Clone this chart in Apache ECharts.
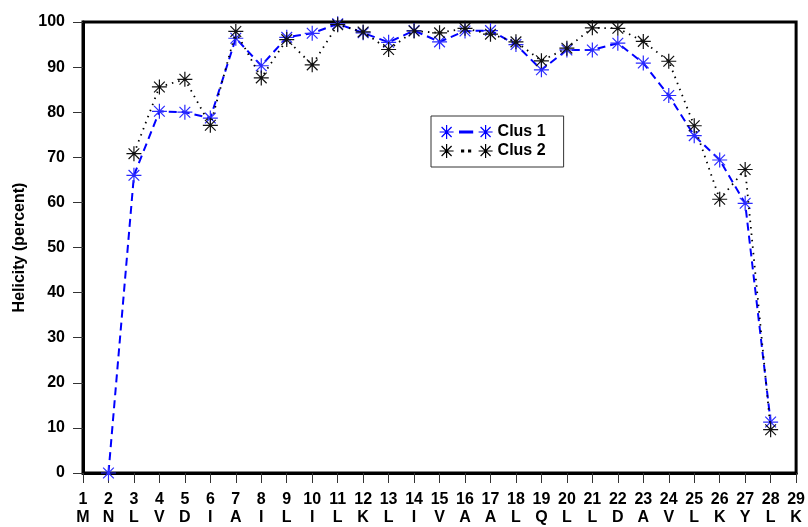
<!DOCTYPE html>
<html>
<head>
<meta charset="utf-8">
<script src="https://cdn.jsdelivr.net/npm/echarts@6/dist/echarts.min.js"></script>
<style>
  html, body { margin: 0; padding: 0; background: #fff; }
  #chart { width: 808px; height: 527px; }
</style>
</head>
<body>
<div id="chart"></div>
<script>
// residue positions and sequence letters
var positions = [1,2,3,4,5,6,7,8,9,10,11,12,13,14,15,16,17,18,19,20,21,22,23,24,25,26,27,28,29];
var residues = ['M','N','L','V','D','I','A','I','L','I','L','K','L','I','V','A','A','L','Q','L','L','D','A','V','L','K','Y','L','K'];

// Clus 1 starts at position 2
var clus1Start = 2;
var clus1 = [0, 66, 80.2, 80, 78.7, 96.4, 90.3, 96.6, 97.5, 99.6, 97.6, 95.5, 98.1, 95.6, 98, 98.1, 95, 89.4, 93.8, 93.8, 95.3, 90.9, 83.7, 74.8, 69.4, 59.8, 11.3];
// Clus 2 starts at position 3
var clus2Start = 3;
var clus2 = [70.8, 85.6, 87.3, 77.1, 97.9, 87.6, 96.1, 90.5, 99.4, 97.8, 93.9, 98, 97.6, 98.6, 97.3, 95.6, 91.4, 94.2, 98.7, 98.6, 95.7, 91.3, 77, 60.7, 67.3, 9.6];

var yTicks = [0, 10, 20, 30, 40, 50, 60, 70, 80, 90, 100];

function pairs(start, vals) {
  return vals.map(function (v, i) { return [start + i, v]; });
}

var star = 'path://M0,7L14,7M7,0L7,14M2,2L12,12M12,2L2,12';
var iconDash = 'path://M0,7L14,7M7,0L7,14M2,2L12,12M12,2L2,12M20,6L33,6L33,8L20,8ZM39,7L53,7M46,0L46,14M41,2L51,12M51,2L41,12';
var iconDot = 'path://M0,7L14,7M7,0L7,14M2,2L12,12M12,2L2,12M22,6L24,6L24,8L22,8ZM29,6L31,6L31,8L29,8ZM39,7L53,7M46,0L46,14M41,2L51,12M51,2L41,12';

var font = "'Liberation Sans', Arial, Helvetica, sans-serif";

var chart = echarts.init(document.getElementById('chart'), null, { renderer: 'canvas' });

var option = {
  animation: false,
  backgroundColor: '#fff',
  grid: {
    left: 83, right: 9, top: 22, bottom: 50,
    show: true, borderColor: '#000', borderWidth: 3
  },
  legend: {
    left: 431, top: 116,
    orient: 'vertical',
    padding: [8, 18, 8, 8],
    itemGap: 3,
    itemWidth: 53, itemHeight: 14,
    borderColor: '#333', borderWidth: 1,
    backgroundColor: '#fff',
    textStyle: { fontFamily: font, fontWeight: 'bold', fontSize: 16, color: '#000' },
    data: [
      { name: 'Clus 1', icon: iconDash, itemStyle: { color: '#0000ff', borderColor: '#0000ff', borderWidth: 1.2 } },
      { name: 'Clus 2', icon: iconDot, itemStyle: { color: '#000', borderColor: '#000', borderWidth: 1.2 } }
    ]
  },
  xAxis: {
    type: 'value',
    min: 1, max: 29, interval: 1,
    axisLine: { lineStyle: { color: '#000', width: 3 } },
    axisTick: { show: true, length: 10, lineStyle: { color: '#333', width: 1 } },
    splitLine: { show: false },
    axisLabel: {
      margin: 18,
      fontFamily: font, fontWeight: 'bold', fontSize: 16, color: '#000',
      lineHeight: 18,
      formatter: function (v) { return v + '\n' + residues[positions.indexOf(v)]; }
    }
  },
  yAxis: {
    type: 'value',
    min: 0, max: 100, interval: 10,
    name: 'Helicity (percent)',
    nameLocation: 'middle',
    nameGap: 55,
    nameTextStyle: { fontFamily: font, fontWeight: 'bold', fontSize: 16, color: '#000' },
    axisLine: { show: true, lineStyle: { color: '#000', width: 3 } },
    axisTick: { show: true, length: 10, lineStyle: { color: '#333', width: 1 } },
    splitLine: { show: false },
    axisLabel: {
      margin: 18,
      fontFamily: font, fontWeight: 'bold', fontSize: 16, color: '#000',
      formatter: function (v) { return yTicks.indexOf(v) >= 0 ? String(v) : ''; }
    }
  },
  series: [
    {
      name: 'Clus 1',
      type: 'line',
      data: pairs(clus1Start, clus1),
      symbol: star,
      symbolSize: 15,
      lineStyle: { color: '#0000ff', width: 2, type: [8, 5] },
      itemStyle: { color: '#2a2aff', borderColor: '#2a2aff', borderWidth: 1.2 },
      z: 2
    },
    {
      name: 'Clus 2',
      type: 'line',
      data: pairs(clus2Start, clus2),
      symbol: star,
      symbolSize: 15,
      lineStyle: { color: '#000', width: 1.8, type: [1.5, 5] },
      itemStyle: { color: '#000', borderColor: '#111', borderWidth: 1.2 },
      z: 3
    }
  ]
};

chart.setOption(option);
</script>
</body>
</html>
